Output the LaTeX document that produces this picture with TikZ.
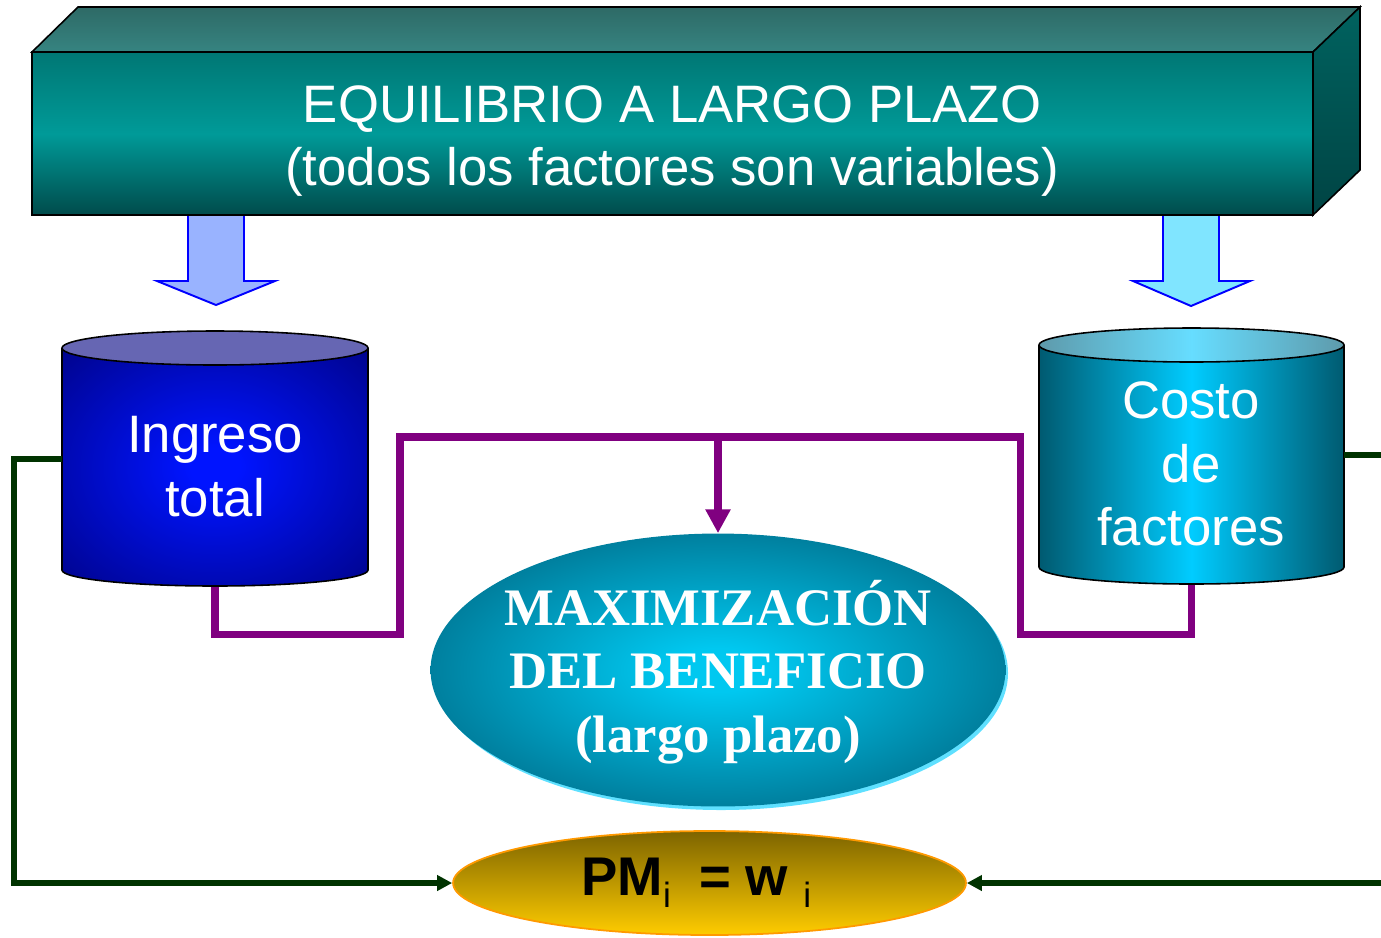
\documentclass[tikz,border=0pt]{standalone}
\usepackage{fontspec}
\setmainfont{Liberation Sans}
\newfontfamily\serifbold{Liberation Serif}
\usetikzlibrary{shapes.geometric, arrows.meta}
\definecolor{boxtop}{HTML}{2E6A66}
\definecolor{boxtoplight}{HTML}{368481}
\definecolor{boxfront}{HTML}{009A98}
\definecolor{boxfronttop}{HTML}{007774}
\definecolor{boxfrontlow}{HTML}{004B4B}
\definecolor{boxside}{HTML}{00625F}
\definecolor{boxsidelow}{HTML}{004444}
\definecolor{ingresoarrow}{HTML}{99B3FF}
\definecolor{costoarrow}{HTML}{80E5FF}
\definecolor{ingresolight}{HTML}{0014FF}
\definecolor{ingresodark}{HTML}{000075}
\definecolor{ingresocap}{HTML}{6666B3}
\definecolor{costolight}{HTML}{00CCFF}
\definecolor{costodark}{HTML}{005A70}
\definecolor{costocaplight}{HTML}{66DDFF}
\definecolor{costocapdark}{HTML}{5E9AAB}
\definecolor{maxlight}{HTML}{00C8F0}
\definecolor{maxdark}{HTML}{00536C}
\definecolor{maxrim}{HTML}{5FE0FF}
\definecolor{pmtop}{HTML}{7D6400}
\definecolor{pmbottom}{HTML}{FFCC00}
\definecolor{pmrim}{HTML}{FF9900}
\definecolor{flowpurple}{HTML}{800080}
\definecolor{linkgreen}{HTML}{003300}
\pgfdeclareradialshading{ingresoglow}{\pgfpoint{0bp}{0bp}}{color(0bp)=(ingresolight); color(4bp)=(ingresolight); color(42bp)=(ingresodark); color(100bp)=(ingresodark)}
\pgfdeclareradialshading{maxglow}{\pgfpoint{0bp}{0bp}}{color(0bp)=(maxlight); color(4bp)=(maxlight); color(38bp)=(maxdark); color(100bp)=(maxdark)}
\tikzset{flow/.style={draw=flowpurple, line width=4pt}}
\tikzset{link/.style={draw=linkgreen, line width=3pt, -{Triangle[length=8.5pt, width=8.5pt]}}}
\tikzset{bigarrow/.style={draw=blue, line width=1.1pt, line join=miter}}
\tikzset{rim/.style={draw=black, line width=0.9pt}}
\tikzset{cyltext/.style={text=white, align=center, font=\fontsize{30}{36.3}\selectfont}}
\newcommand{\pmsub}{\raisebox{-6.8pt}{\mdseries\fontsize{20}{20}\selectfont i}}

\begin{document}
\begin{tikzpicture}[x=0.02cm, y=-0.02cm]
    \useasboundingbox (0,0) rectangle (1381,937);
    \clip (0,0) rectangle (1381,937);
    % block arrows
    \filldraw[bigarrow, fill=ingresoarrow] (188,210) -- (188,281) -- (157,281) -- (216,305) -- (275,281) -- (244,281) -- (244,210);
    \filldraw[bigarrow, fill=costoarrow] (1163,210) -- (1163,281) -- (1133,281) -- (1191,306) -- (1250,281) -- (1219,281) -- (1219,210);
    % 3d box
    \shadedraw[rim, top color=boxfronttop, bottom color=boxfrontlow, middle color=boxfront] (32,52) rectangle (1313,215);
    \shadedraw[rim, top color=boxtop, bottom color=boxtoplight] (32,52) -- (78,7) -- (1360,7) -- (1313,52) -- cycle;
    \shadedraw[rim, top color=boxside, bottom color=boxsidelow] (1313,52) -- (1360,7) -- (1360,170) -- (1313,215) -- cycle;
    \node[cyltext] (title) at (672,141) {EQUILIBRIO A LARGO PLAZO\\(todos los factores son variables)};
    % cylinder anchors
    \coordinate (ingreso base) at (215,586);
    \coordinate (ingreso side) at (62,459);
    \coordinate (costo base) at (1191,584);
    \coordinate (costo side) at (1344,455);
    \draw[flow] (ingreso base) -- (215,634) -- (400,634) -- (400,437) -- (1020,437) -- (1020,634) -- (1191,634) -- (costo base);
    % ingreso cylinder
    \shade[shading=ingresoglow] (62,348) -- (62,570) arc[start angle=180, end angle=0, x radius=153, y radius=16] -- (368,348) -- cycle;
    \draw[rim] (62,348) -- (62,570) arc[start angle=180, end angle=0, x radius=153, y radius=16] -- (368,348);
    \filldraw[rim, fill=ingresocap] (215,348) ellipse[x radius=153, y radius=17];
    \node[cyltext] (ingreso) at (215,467) {Ingreso\\total};
    % costo cylinder
    \shade[left color=costodark, right color=costodark, middle color=costolight] (1039,345) -- (1039,567) arc[start angle=180, end angle=0, x radius=152.5, y radius=17] -- (1344,345) -- cycle;
    \draw[rim] (1039,345) -- (1039,567) arc[start angle=180, end angle=0, x radius=152.5, y radius=17] -- (1344,345);
    \shadedraw[rim, left color=costocapdark, right color=costocapdark, middle color=costocaplight] (1191.5,345) ellipse[x radius=152.5, y radius=17];
    \node[cyltext] (costo) at (1191,464) {Costo\\de\\factores};
    % ellipses
    \fill[maxrim] (721,673) ellipse[x radius=287, y radius=137];
    \node[ellipse, shade, shading=maxglow, minimum width=11.5cm, minimum height=5.46cm] (max) at (718,670) {};
    \node[text=white, align=center, font=\serifbold\bfseries\fontsize{30}{36.3}\selectfont] (max text) at (718,672) {MAXIMIZACIÓN\\DEL BENEFICIO\\(largo plazo)};
    \node[ellipse, draw=pmrim, line width=1pt, top color=pmtop, bottom color=pmbottom, minimum width=10.26cm, minimum height=2.08cm, font=\bfseries\fontsize{31}{38}\selectfont] (pm) at (709.5,883) {PM\pmsub\hspace{16pt}= w \pmsub\hspace{15pt}\null};
    \draw[link] (ingreso side) -- (14,459) |- (pm.west);
    \draw[link] (costo side) -- (1400,455) |- (pm.east);
    \draw[flow, -{Triangle[length=13.6pt, width=13.6pt]}] (718,437) -- (max.north);
\end{tikzpicture}
\end{document}
